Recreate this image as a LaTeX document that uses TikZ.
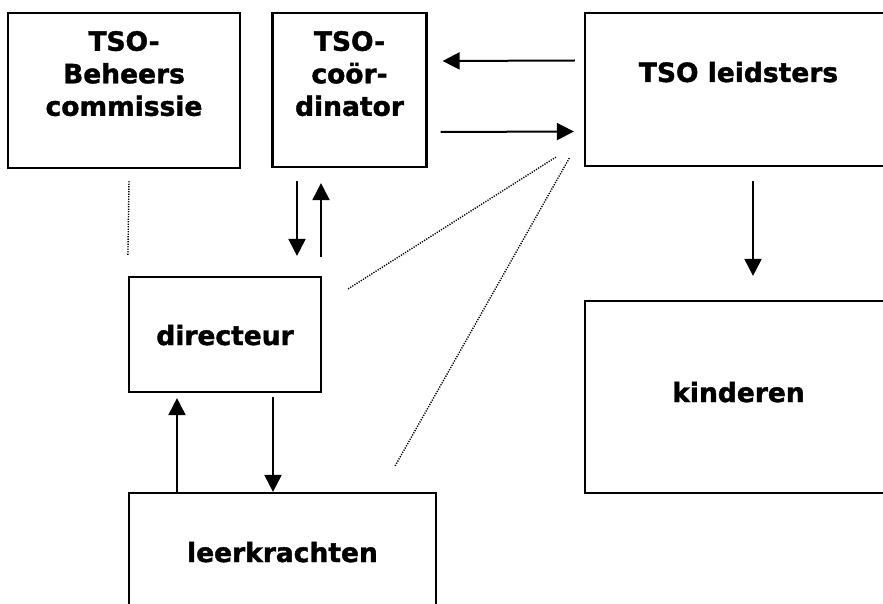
\documentclass[tikz,border=0pt]{standalone}
\usepackage{fontspec}
\setmainfont{DejaVu Sans}[BoldFeatures={FakeBold=1.5}]
\usetikzlibrary{arrows.meta,positioning}

\begin{document}
\begin{tikzpicture}[
	x=1pt, y=-1pt,
	every node/.style={font=\fontsize{26.5}{32.5}\selectfont\bfseries},
	box/.style={draw, line width=2.2pt, inner sep=0pt},
	lbl/.style={inner sep=0pt, align=center},
	arr/.style={-{Triangle[length=17pt,width=17pt]}, line width=2pt},
	dots/.style={line width=1.4pt, dash pattern=on 1.2pt off 1.3pt}
	]
	\useasboundingbox (0,0) rectangle (883,604);
	
	% boxes
	\node[box, minimum width=232pt, minimum height=155pt] (beheer) at (124,90.5) {};
	\node[box, minimum width=154pt, minimum height=154pt] (coord) at (349.5,90) {};
	\node[box, minimum width=307pt, minimum height=153pt] (leid) at (738.5,89.5) {};
	\node[box, minimum width=192pt, minimum height=115pt] (dir) at (225,334.5) {};
	\node[box, minimum width=307pt, minimum height=192pt] (kind) at (738.5,397) {};
	\node[box, minimum width=307pt, minimum height=140pt] (leer) at (282.5,563) {};
	
	% texts
	\node[lbl, anchor=north] (beheertxt) at ([yshift=-19pt]beheer.north) {TSO-\\Beheers\\commissie};
	\node[lbl, anchor=north] (coordtxt) at ([yshift=-19pt]coord.north) {TSO-\\coör-\\dinator};
	\node[lbl, anchor=base] (leidtxt) at (738.5,82) {TSO leidsters};
	\node[lbl, anchor=base] (dirtxt) at (225,345) {directeur};
	\node[lbl, anchor=base] (kindtxt) at (738.5,402) {kinderen};
	\node[lbl, anchor=base] (leertxt) at (282.5,562) {leerkrachten};
	
	% arrows
	\draw[arr] ([xshift=-9pt,yshift=29pt]leid.west) -- ([xshift=15pt,yshift=29pt]coord.east);
	\draw[arr] ([xshift=13pt,yshift=-42pt]coord.east) -- ([xshift=-10pt,yshift=-42pt]leid.west);
	\draw[arr] ([xshift=-52.5pt,yshift=-13pt]coord.south) -- ([xshift=72pt,yshift=20pt]dir.north);
	\draw[arr] ([xshift=96pt,yshift=19pt]dir.north) -- ([xshift=-28.5pt,yshift=-15pt]coord.south);
	\draw[arr] ([xshift=14.5pt,yshift=-14pt]leid.south) -- ([xshift=14.5pt,yshift=24pt]kind.north);
	\draw[arr] ([xshift=48pt,yshift=-4pt]dir.south) -- ([xshift=-9.5pt]leer.north);
	\draw[arr] ([xshift=-105.5pt]leer.north) -- ([xshift=-48pt,yshift=-5pt]dir.south);
	
	% dotted lines
	\draw[dots] ([xshift=5pt,yshift=-12pt]beheer.south) -- ([yshift=20pt]dir.north west);
	\draw[dots] ([xshift=26pt,yshift=-13pt]dir.north east) -- ([xshift=-28pt,yshift=10pt]leid.south west);
	\draw[dots] ([xshift=-42pt,yshift=26pt]leer.north east) -- ([xshift=-14pt,yshift=10pt]leid.south west);
	
\end{tikzpicture}
\end{document}
